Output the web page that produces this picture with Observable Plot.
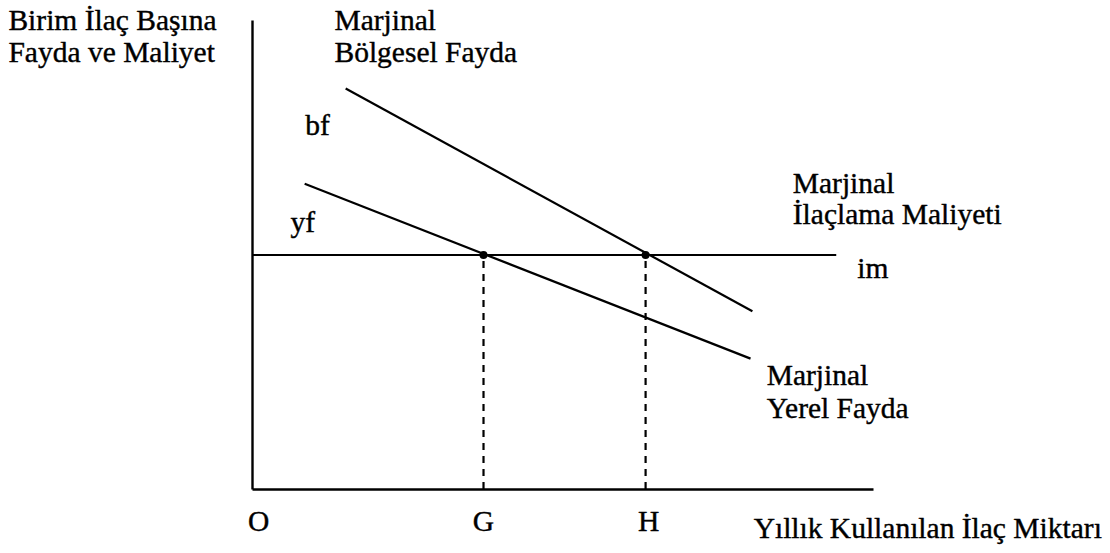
<!DOCTYPE html>
<html><head><meta charset="utf-8">
<script src="https://cdn.jsdelivr.net/npm/d3@7"></script>
<script src="https://cdn.jsdelivr.net/npm/@observablehq/plot@0.6"></script>
<style>body{margin:0;background:#fff}</style>
</head><body><div id="chart"></div>
<script>
// Axes (data units: x quantity 0..100, y benefit/cost 0..100)
const axisX1 = [0, 0];
const axisY1 = [0, 0];
const axisX2 = [100, 0];
const axisY2 = [0, 100];

// Curves: marginal regional benefit (bf), marginal local benefit (yf), marginal cost (im)
const curveNames = ["bf", "yf", "im"];
const curveX1 = [15.0, 8.4, 0];
const curveY1 = [85.5, 65.2, 50];
const curveX2 = [80.5, 80.2, 94];
const curveY2 = [38.0, 27.9, 50];

// Equilibrium points
const eqNames = ["G", "H"];
const eqX = [37.2, 63.3];
const eqY = [50, 50];

// Text labels
const labelTexts = ["Birim İlaç Başına", "Fayda ve Maliyet", "Marjinal", "Bölgesel Fayda", "bf", "yf",
  "Marjinal", "İlaçlama Maliyeti", "im", "Marjinal", "Yerel Fayda", "Yıllık Kullanılan İlaç Miktarı"];
const labelX = [-39.3, -39.3, 13.2, 13.2, 8.5, 6.1, 87.0, 87.0, 97.4, 82.8, 82.8, 80.7];
const labelY = [100, 93.2, 100, 93.2, 77.6, 56.9, 65.2, 58.6, 47.1, 24.3, 17.3, -8.3];
const tickNames = ["O", "G", "H"];
const tickX = [1.0, 37.2, 63.8];
const tickY = [-6.8, -6.8, -6.8];

const axes = axisX1.map((d, i) => ({x1: d, y1: axisY1[i], x2: axisX2[i], y2: axisY2[i]}));
const curves = curveNames.map((n, i) => ({name: n, x1: curveX1[i], y1: curveY1[i], x2: curveX2[i], y2: curveY2[i]}));
const eqs = eqNames.map((n, i) => ({name: n, x: eqX[i], y: eqY[i]}));
const labels = labelTexts.map((t, i) => ({text: t, x: labelX[i], y: labelY[i]}));
const ticks = tickNames.map((t, i) => ({text: t, x: tickX[i], y: tickY[i]}));

const font = "Liberation Serif, Times New Roman, Times, serif";
const chart = Plot.plot({
  width: 1110,
  height: 553,
  marginLeft: 252,
  marginRight: 237,
  marginTop: 20,
  marginBottom: 64,
  x: {domain: [0, 100], axis: null},
  y: {domain: [0, 100], axis: null},
  style: {background: "#fff", overflow: "visible", fontFamily: font},
  marks: [
    Plot.link(axes, {x1: "x1", y1: "y1", x2: "x2", y2: "y2", stroke: "#000", strokeWidth: 2.4}),
    Plot.link(curves, {x1: "x1", y1: "y1", x2: "x2", y2: "y2", stroke: "#000", strokeWidth: 2.2}),
    Plot.ruleX(eqs, {x: "x", y1: 0, y2: "y", stroke: "#000", strokeWidth: 2.2, strokeDasharray: "7,6"}),
    Plot.dot(eqs, {x: "x", y: "y", r: 4, fill: "#000"}),
    Plot.text(labels, {x: "x", y: "y", text: "text", textAnchor: "start", fontSize: 29.5, fontFamily: font, fill: "#000", stroke: "#000", strokeWidth: 0.4}),
    Plot.text(ticks, {x: "x", y: "y", text: "text", textAnchor: "middle", fontSize: 29.5, fontFamily: font, fill: "#000", stroke: "#000", strokeWidth: 0.4})
  ]
});
document.getElementById("chart").appendChild(chart);
</script>
</body></html>
